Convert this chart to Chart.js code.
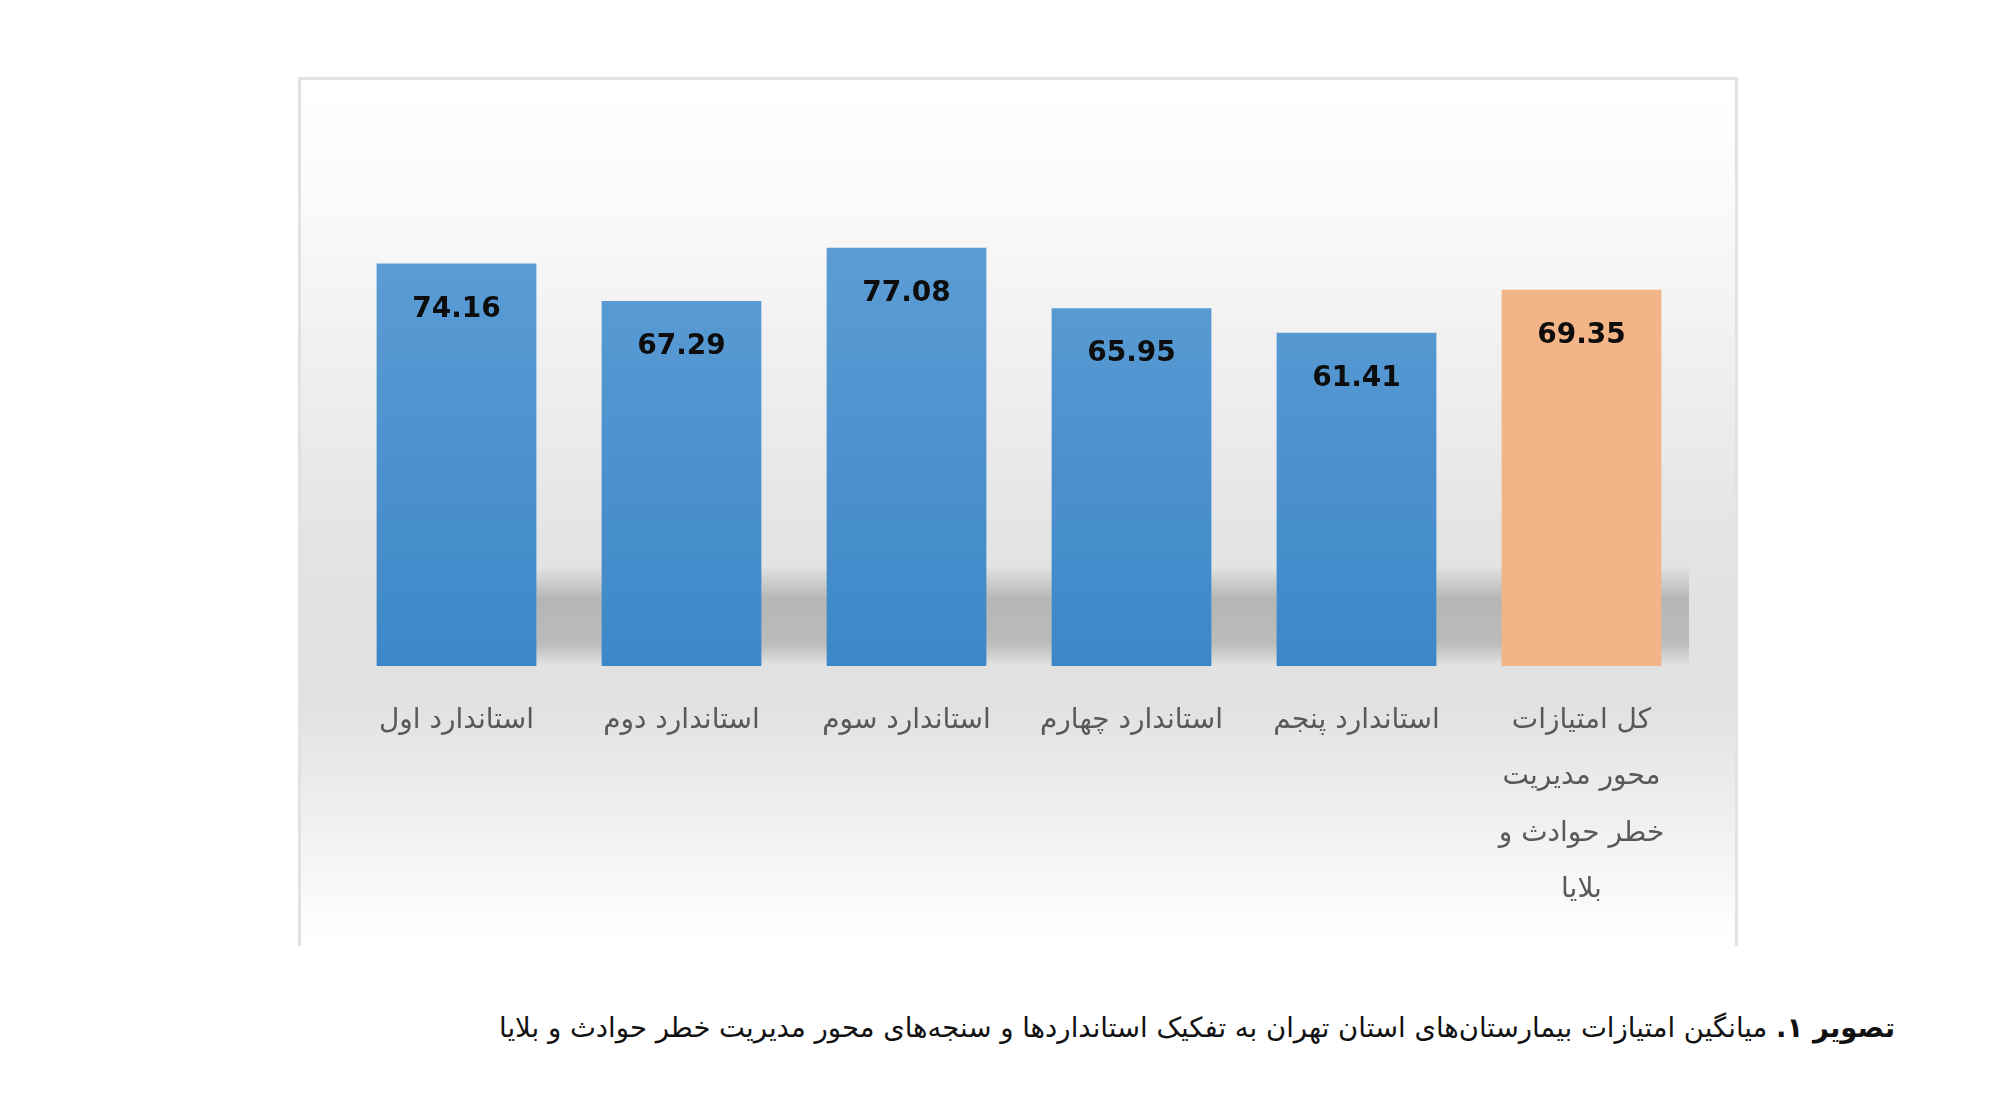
<!DOCTYPE html>
<html lang="fa">
<head>
<meta charset="utf-8">
<script src="https://cdn.jsdelivr.net/npm/chart.js@4/dist/chart.umd.min.js"></script>
<style>
  html, body { margin: 0; padding: 0; background: #ffffff; }
  body { width: 2000px; height: 1119px; position: relative; overflow: hidden; }
  #frame {
    position: absolute; left: 298px; top: 77px; width: 1434px; height: 866px;
    border-left: 3px solid #e2e2e2; border-top: 3px solid #e2e2e2; border-right: 3px solid #e2e2e2;
  }
  #chartBox { position: absolute; left: 0; top: 0; width: 1434px; height: 863px; }
  #caption {
    position: absolute; right: 105px; top: 1011px; direction: rtl; text-align: right;
    font-family: "DejaVu Sans", sans-serif; font-size: 27.5px; color: #111;
    white-space: nowrap;
  }
  #caption b { font-weight: bold; }
</style>
</head>
<body>
<div id="frame"><div id="chartBox"><canvas id="chart"></canvas></div></div>
<div id="caption"><b>تصویر ۱.</b> میانگین امتیازات بیمارستان‌های استان تهران به تفکیک استانداردها و سنجه‌های محور مدیریت خطر حوادث و بلایا</div>
<script>
const categories = [
  ['استاندارد اول'],
  ['استاندارد دوم'],
  ['استاندارد سوم'],
  ['استاندارد چهارم'],
  ['استاندارد پنجم'],
  ['کل امتیازات', 'محور مدیریت', 'خطر حوادث و', 'بلایا']
];
const scores = [74.16, 67.29, 77.08, 65.95, 61.41, 69.35];
const isTotal = [false, false, false, false, false, true];

// grey backdrop with the soft floor band behind the bars
const backdrop = {
  id: 'backdrop',
  beforeDraw(chart) {
    const { ctx, width, height, chartArea } = chart;
    ctx.save();
    const g = ctx.createLinearGradient(0, 0, 0, height);
    g.addColorStop(0, '#ffffff');
    g.addColorStop(0.14, '#fafafa');
    g.addColorStop(0.37, '#ededed');
    g.addColorStop(0.55, '#e3e3e3');
    g.addColorStop(0.72, '#e1e1e1');
    g.addColorStop(0.85, '#efefef');
    g.addColorStop(1, '#ffffff');
    ctx.fillStyle = g;
    ctx.fillRect(0, 0, width, height);

    const top = chartArea.bottom - 100, bot = chartArea.bottom - 3;
    const b = ctx.createLinearGradient(0, top, 0, bot);
    b.addColorStop(0, 'rgba(0,0,0,0)');
    b.addColorStop(0.35, 'rgba(0,0,0,0.2)');
    b.addColorStop(0.8, 'rgba(0,0,0,0.17)');
    b.addColorStop(1, 'rgba(0,0,0,0.02)');
    ctx.fillStyle = b;
    ctx.fillRect(chartArea.left + 120, top, chartArea.right - chartArea.left - 125, bot - top);
    ctx.restore();
  }
};

// value printed inside each bar near its top
const valueLabels = {
  id: 'valueLabels',
  afterDatasetsDraw(chart) {
    const { ctx } = chart;
    const meta = chart.getDatasetMeta(0);
    ctx.save();
    ctx.font = 'bold 28px "DejaVu Sans", sans-serif';
    ctx.fillStyle = '#0d0d0d';
    ctx.textAlign = 'center';
    ctx.textBaseline = 'middle';
    meta.data.forEach((bar, i) => {
      ctx.fillText(scores[i].toFixed(2), bar.x, bar.y + 46);
    });
    ctx.restore();
  }
};

function barFill(context) {
  const chart = context.chart;
  const area = chart.chartArea;
  if (!area) return '#4f94d0';
  if (isTotal[context.dataIndex]) return '#f3b488';
  const g = chart.ctx.createLinearGradient(0, area.top, 0, area.bottom);
  g.addColorStop(0, '#68a5da');
  g.addColorStop(1, '#3d87c8');
  return g;
}

new Chart(document.getElementById('chart'), {
  type: 'bar',
  data: {
    labels: categories,
    datasets: [{
      data: scores,
      backgroundColor: barFill,
      borderWidth: 0,
      barPercentage: 0.71,
      categoryPercentage: 1
    }]
  },
  options: {
    responsive: true,
    maintainAspectRatio: false,
    animation: false,
    layout: { padding: { left: 43, right: 41, top: 0, bottom: 0 } },
    plugins: { legend: { display: false }, tooltip: { enabled: false } },
    scales: {
      x: {
        grid: { display: false, drawBorder: false },
        border: { display: false },
        ticks: {
          color: '#595959',
          font: { family: '"DejaVu Sans", sans-serif', size: 28, lineHeight: 2.02 },
          padding: 18,
          maxRotation: 0,
          autoSkip: false
        },
        afterFit(scale) { scale.height = 277; }
      },
      y: {
        display: false,
        min: 0,
        max: 108
      }
    }
  },
  plugins: [backdrop, valueLabels]
});
</script>
</body>
</html>
